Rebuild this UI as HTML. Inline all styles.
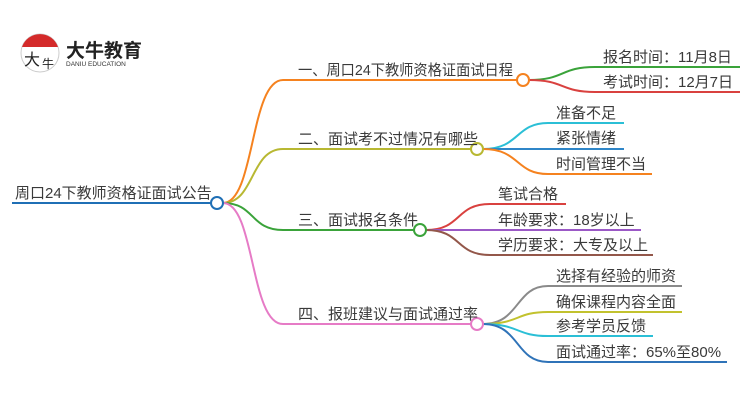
<!DOCTYPE html>
<html><head><meta charset="utf-8"><style>
body{margin:0;background:#fff;}
svg text{font-family:"Liberation Sans","Noto Sans CJK SC",sans-serif;fill:#3a3a3a;font-size:15px;}
</style></head><body>
<svg width="750" height="410" viewBox="0 0 750 410" xmlns="http://www.w3.org/2000/svg">
<g fill="none" stroke-width="2">
<path d="M12 203 H211" stroke="#1f6fb5"/>
<path d="M223 203 C255 203,250 80,283 80 H517" stroke="#f5821f"/>
<path d="M223 203 C255 203,250 149,283 149 H471" stroke="#b8b832"/>
<path d="M223 203 C255 203,250 230,283 230 H414" stroke="#3aa33a"/>
<path d="M223 203 C255 203,250 324,283 324 H471" stroke="#e67bc6"/>
<path d="M529 80 C565 80,560 67,595 67 H740" stroke="#3aa33a"/>
<path d="M529 80 C565 80,560 92,595 92 H740" stroke="#d9413f"/>
<path d="M483 149 C520 149,515 123,548 123 H624" stroke="#2bbfd6"/>
<path d="M483 149 H624" stroke="#2f86c8"/>
<path d="M483 149 C520 149,515 174,548 174 H652" stroke="#f5821f"/>
<path d="M426 230 C462 230,455 204,490 204 H566" stroke="#d9413f"/>
<path d="M426 230 H641" stroke="#9b59c6"/>
<path d="M426 230 C462 230,455 255,490 255 H653" stroke="#93574a"/>
<path d="M483 324 C520 324,515 286,548 286 H682" stroke="#8a8a8a"/>
<path d="M483 324 C520 324,515 312,548 312 H682" stroke="#c2c22e"/>
<path d="M483 324 C520 324,515 336,548 336 H653" stroke="#2bbfd6"/>
<path d="M483 324 C520 324,515 362,548 362 H727" stroke="#2f73b8"/>
</g>
<g fill="#fff" stroke-width="2">
<circle cx="217" cy="203" r="6" stroke="#1f6fb5"/>
<circle cx="523" cy="80" r="6" stroke="#f5821f"/>
<circle cx="477" cy="149" r="6" stroke="#b8b832"/>
<circle cx="420" cy="230" r="6" stroke="#3aa33a"/>
<circle cx="477" cy="324" r="6" stroke="#e67bc6"/>
</g>
<text x="15" y="198">周口24下教师资格证面试公告</text>
<text x="298" y="75" textLength="215" lengthAdjust="spacingAndGlyphs">一、周口24下教师资格证面试日程</text>
<text x="298" y="144">二、面试考不过情况有哪些</text>
<text x="298" y="225">三、面试报名条件</text>
<text x="298" y="319">四、报班建议与面试通过率</text>
<text x="603" y="62">报名时间：11月8日</text>
<text x="603" y="87">考试时间：12月7日</text>
<text x="556" y="118">准备不足</text>
<text x="556" y="143">紧张情绪</text>
<text x="556" y="169">时间管理不当</text>
<text x="498" y="199">笔试合格</text>
<text x="498" y="225">年龄要求：18岁以上</text>
<text x="498" y="250">学历要求：大专及以上</text>
<text x="556" y="281">选择有经验的师资</text>
<text x="556" y="307">确保课程内容全面</text>
<text x="556" y="331">参考学员反馈</text>
<text x="556" y="357">面试通过率：65%至80%</text>
<circle cx="40" cy="53" r="19" fill="#fff" stroke="#ccc" stroke-width="1"/>
<path d="M22 47 A19 19 0 0 1 58 47 Z" fill="#d42a2a"/>
<text x="24" y="65" style="font-size:16px;fill:#222">大</text>
<text x="42" y="68" style="font-size:12px;fill:#222">牛</text>
<text x="66" y="57" style="font-size:19px;font-weight:bold;fill:#222">大牛教育</text>
<text x="66" y="66" style="font-size:6.5px;fill:#333">DANIU EDUCATION</text>
</svg>
</body></html>
